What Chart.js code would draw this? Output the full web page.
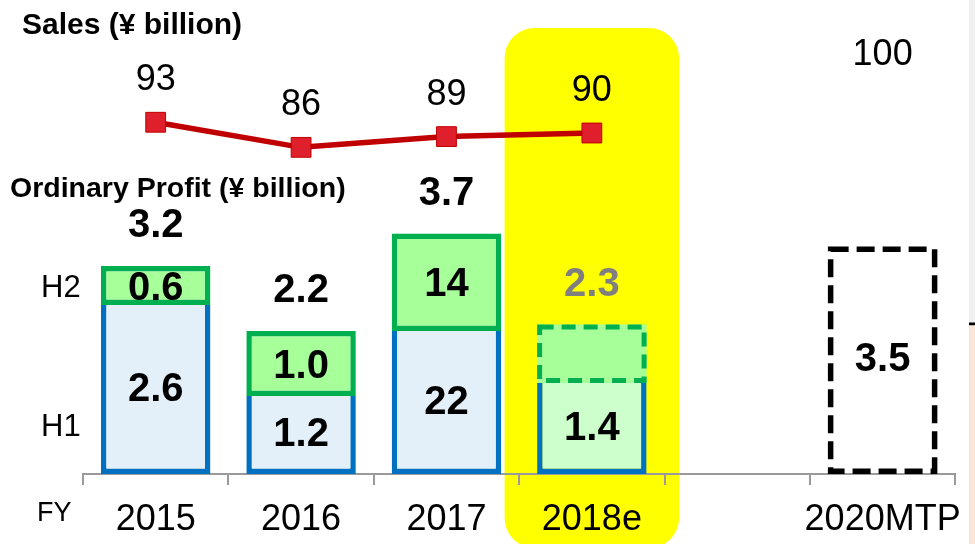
<!DOCTYPE html>
<html>
<head>
<meta charset="utf-8">
<title>Sales and Ordinary Profit</title>
<script src="https://cdn.jsdelivr.net/npm/chart.js@4.4.1/dist/chart.umd.min.js"></script>
<style>
  html, body { margin: 0; padding: 0; background: #fff; }
  #wrap { position: relative; width: 975px; height: 544px; }
</style>
</head>
<body>
<div id="wrap"><canvas id="chart"></canvas></div>
<script>
// ---- data ----
const years = ['2015', '2016', '2017', '2018e', '', '2020MTP'];
const sales = [93, 86, 89, 90, null, 100];
const salesLabels = ['93', '86', '89', '90', '', '100'];
const h1 = [2.6, 1.2, 2.2, 1.4, null, null];
const h2 = [0.6, 1.0, 1.5, 0.9, null, null];
const mtp = [null, null, null, null, null, 3.5];
const h1Labels = ['2.6', '1.2', '22', '1.4', '', ''];
const h2Labels = ['0.6', '1.0', '14', '', '', ''];
const totalLabels = ['3.2', '2.2', '3.7', '2.3', '', ''];
const mtpLabels = ['', '', '', '', '', '3.5'];

const FONT = '"Liberation Sans", Arial, sans-serif';
const BLUE = '#0070c0';
const GREEN = '#00b050';
const RED = '#c00000';

function drawText(ctx, s, x, y, size, bold, color, align) {
    ctx.save();
    ctx.font = (bold ? 'bold ' : '') + size + 'px ' + FONT;
    ctx.fillStyle = color || '#000';
    ctx.textAlign = align || 'center';
    ctx.textBaseline = 'middle';
    ctx.fillText(s, x, y);
    ctx.restore();
}

function dashedBox(ctx, el, color, lw, dash) {
    const half = el.width / 2;
    const top = Math.min(el.y, el.base), bottom = Math.max(el.y, el.base);
    ctx.save();
    ctx.strokeStyle = color;
    ctx.lineWidth = lw;
    ctx.setLineDash(dash);
    ctx.strokeRect(el.x - half + lw / 2, top + lw / 2, el.width - lw, bottom - top - lw);
    ctx.restore();
}

// background: yellow highlight for 2018e and the cropped strips on the right edge
const backdrop = {
    id: 'backdrop',
    beforeDraw(chart) {
        const ctx = chart.ctx;
        const x = chart.scales.x;
        const step = x.getPixelForValue(1) - x.getPixelForValue(0);
        const cx = x.getPixelForValue(3);
        ctx.save();
        ctx.fillStyle = '#f0f0f0';
        ctx.fillRect(969, 0, 6, 323);
        ctx.fillStyle = '#000';
        ctx.fillRect(969, 322.5, 6, 3);
        ctx.fillStyle = '#fce4d6';
        ctx.fillRect(969, 325.5, 6, 219);
        ctx.fillStyle = '#ffff00';
        ctx.beginPath();
        ctx.roundRect(cx - step * 0.6, 28, step * 1.2, 520, 30);
        ctx.fill();
        ctx.restore();
    }
};

const labels = {
    id: 'labels',
    afterDatasetsDraw(chart) {
        const ctx = chart.ctx;
        const lineMeta = chart.getDatasetMeta(0);
        const h1Meta = chart.getDatasetMeta(1);
        const h2Meta = chart.getDatasetMeta(2);
        const mtpMeta = chart.getDatasetMeta(3);

        // dashed outlines for the estimate and the plan
        dashedBox(ctx, h2Meta.data[3], GREEN, 5, [14, 8]);
        dashedBox(ctx, mtpMeta.data[5], '#000', 5.5, [18, 8]);

        years.forEach((y, i) => {
            const a = h1Meta.data[i], b = h2Meta.data[i], m = mtpMeta.data[i];
            if (h1Labels[i]) drawText(ctx, h1Labels[i], a.x, (a.y + a.base) / 2, 40, true);
            if (h2Labels[i]) drawText(ctx, h2Labels[i], b.x, (b.y + b.base) / 2 + 3, 40, true);
            if (totalLabels[i]) {
                drawText(ctx, totalLabels[i], b.x, b.y - 40, 40, true, i === 3 ? '#7f7f7f' : '#000');
            }
            if (mtpLabels[i]) drawText(ctx, mtpLabels[i], m.x, (m.y + m.base) / 2, 40, true);
            if (salesLabels[i]) {
                const p = lineMeta.data[i];
                drawText(ctx, salesLabels[i], p.x, p.y - 42, 36, false);
            }
        });
    },
    afterDraw(chart) {
        const ctx = chart.ctx;
        drawText(ctx, 'Sales (¥ billion)', 22, 26, 30, true, '#000', 'left');
        drawText(ctx, 'Ordinary Profit (¥ billion)', 10, 189, 28.5, true, '#000', 'left');
        drawText(ctx, 'H2', 41, 288, 31, false, '#000', 'left');
        drawText(ctx, 'H1', 41, 427, 31, false, '#000', 'left');
        drawText(ctx, 'FY', 37, 514, 27, false, '#000', 'left');
    }
};

new Chart(document.getElementById('chart'), {
    type: 'bar',
    data: {
        labels: years,
        datasets: [
            {
                type: 'line',
                label: 'Sales',
                data: sales,
                yAxisID: 'y2',
                order: 0,
                borderColor: RED,
                borderWidth: 5.5,
                tension: 0,
                spanGaps: false,
                pointStyle: 'rect',
                pointRadius: [14, 14, 14, 14, 0, 0],
                pointBackgroundColor: '#e01f2d',
                pointBorderColor: RED,
                pointBorderWidth: 1
            },
            {
                label: 'H1',
                data: h1,
                yAxisID: 'y',
                order: 1,
                backgroundColor: ['#e3f0fa', '#e3f0fa', '#e3f0fa', '#ccffcc', '#e3f0fa', '#e3f0fa'],
                borderColor: BLUE,
                borderWidth: 5.5,
                borderSkipped: 'top'
            },
            {
                label: 'H2',
                data: h2,
                yAxisID: 'y',
                order: 1,
                backgroundColor: '#a6ff99',
                borderColor: GREEN,
                borderWidth: [5.5, 5.5, 5.5, 0, 0, 0],
                borderSkipped: false
            },
            {
                label: 'MTP',
                data: mtp,
                yAxisID: 'y',
                order: 1,
                backgroundColor: 'rgba(255,255,255,0)',
                borderWidth: 0
            }
        ]
    },
    options: {
        responsive: true,
        maintainAspectRatio: false,
        animation: false,
        layout: { padding: { top: 20, left: 83, right: 16, bottom: 0 } },
        datasets: {
            bar: { barPercentage: 0.753, categoryPercentage: 1 }
        },
        plugins: {
            legend: { display: false },
            tooltip: { enabled: false }
        },
        scales: {
            x: {
                stacked: true,
                offset: true,
                afterFit: (scale) => { scale.height = 70; },
                grid: {
                    offset: true,
                    drawOnChartArea: false,
                    drawTicks: true,
                    tickLength: 11,
                    color: '#9a9a9a',
                    lineWidth: 2
                },
                border: { display: true, color: '#9a9a9a', width: 2 },
                ticks: {
                    color: '#000',
                    padding: 13,
                    maxRotation: 0,
                    autoSkip: false,
                    font: { family: FONT, size: 36 }
                }
            },
            y: {
                display: false,
                stacked: true,
                min: 0,
                max: 6.985
            },
            y2: {
                display: false,
                min: -5.14,
                max: 121.53
            }
        }
    },
    plugins: [backdrop, labels]
});
</script>
</body>
</html>
